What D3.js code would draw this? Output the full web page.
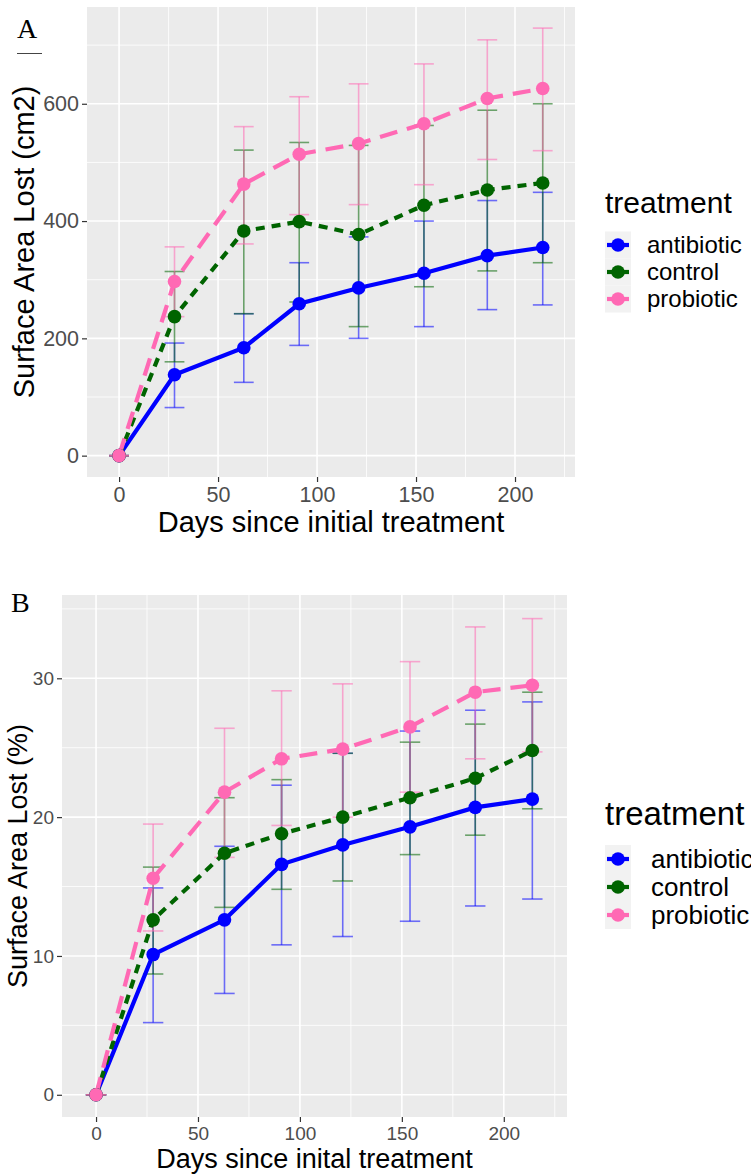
<!DOCTYPE html>
<html>
<head>
<meta charset="utf-8">
<script src="https://cdn.jsdelivr.net/npm/d3@7"></script>
<style>
  body { margin: 0; background: #fff; }
  svg { display: block; font-family: "Liberation Sans", Arial, sans-serif; }
</style>
</head>
<body>
<div id="chart"></div>
<script>
// sampling days (shared by both panels)
const days = [0, 28, 63, 91, 121, 154, 186, 214];
const treatments = ['antibiotic', 'control', 'probiotic'];

// Panel A: surface area lost (cm2), mean and error bar ends
const cm2Antibiotic = [0, 138, 184, 259, 286, 311, 341, 355];
const cm2AntibioticLo = [0, 82, 125, 188, 200, 220, 249, 257];
const cm2AntibioticHi = [0, 192, 242, 329, 373, 400, 435, 449];
const cm2Control = [0, 237, 383, 399, 377, 427, 453, 465];
const cm2ControlLo = [0, 160, 242, 262, 220, 288, 315, 329];
const cm2ControlHi = [0, 314, 521, 534, 529, 563, 589, 600];
const cm2Probiotic = [0, 297, 463, 514, 532, 566, 609, 626];
const cm2ProbioticLo = [0, 237, 361, 411, 428, 462, 505, 520];
const cm2ProbioticHi = [0, 356, 561, 612, 634, 668, 709, 729];

// Panel B: surface area lost (%)
const pctAntibiotic = [0, 10.1, 12.6, 16.6, 18.0, 19.3, 20.7, 21.3];
const pctAntibioticLo = [0, 5.2, 7.3, 10.8, 11.4, 12.5, 13.6, 14.1];
const pctAntibioticHi = [0, 14.9, 17.9, 22.3, 24.6, 26.2, 27.7, 28.3];
const pctControl = [0, 12.6, 17.4, 18.8, 20.0, 21.4, 22.8, 24.8];
const pctControlLo = [0, 8.7, 13.5, 14.8, 15.4, 17.3, 18.7, 20.6];
const pctControlHi = [0, 16.4, 21.4, 22.7, 24.6, 25.4, 26.7, 29.0];
const pctProbiotic = [0, 15.6, 21.8, 24.2, 24.9, 26.5, 29.0, 29.5];
const pctProbioticLo = [0, 11.8, 17.1, 19.4, 20.0, 21.8, 24.2, 24.7];
const pctProbioticHi = [0, 19.5, 26.4, 29.1, 29.6, 31.2, 33.7, 34.3];

const xTicks = [0, 50, 100, 150, 200];
const yTicksA = [0, 200, 400, 600];
const yTicksB = [0, 10, 20, 30];

const colours = { antibiotic: '#0000FF', control: '#006400', probiotic: '#FF69B4' };
const dashes = { antibiotic: null, control: '9,7', probiotic: '18,10' };

const svg = d3.select('#chart').append('svg')
  .attr('width', 751)
  .attr('height', 1175);

function buildSeries(means, los, his) {
  return treatments.map((t, k) => ({
    name: t,
    points: days.map((d, i) => ({ day: d, mean: means[k][i], lo: los[k][i], hi: his[k][i] }))
  }));
}

function drawPanel(opt) {
  const x = d3.scaleLinear().domain(opt.xDomain).range([opt.left, opt.right]);
  const y = d3.scaleLinear().domain(opt.yDomain).range([opt.bottom, opt.top]);
  const g = svg.append('g');

  // panel background + grid
  g.append('rect')
    .attr('x', opt.left).attr('y', opt.top)
    .attr('width', opt.right - opt.left).attr('height', opt.bottom - opt.top)
    .attr('fill', '#EBEBEB');

  const minorX = xTicks.map((v) => v + 25).concat([-25]).filter((v) => v > opt.xDomain[0] && v < opt.xDomain[1]);
  const step = opt.yTicks[1] - opt.yTicks[0];
  const minorY = opt.yTicks.map((v) => v + step / 2).filter((v) => v < opt.yDomain[1]);

  g.selectAll('.minx').data(minorX).enter().append('line')
    .attr('x1', (d) => x(d)).attr('x2', (d) => x(d))
    .attr('y1', opt.top).attr('y2', opt.bottom)
    .attr('stroke', '#fff').attr('stroke-width', 0.8);
  g.selectAll('.miny').data(minorY).enter().append('line')
    .attr('y1', (d) => y(d)).attr('y2', (d) => y(d))
    .attr('x1', opt.left).attr('x2', opt.right)
    .attr('stroke', '#fff').attr('stroke-width', 0.8);
  g.selectAll('.majx').data(xTicks).enter().append('line')
    .attr('x1', (d) => x(d)).attr('x2', (d) => x(d))
    .attr('y1', opt.top).attr('y2', opt.bottom)
    .attr('stroke', '#fff').attr('stroke-width', 1.6);
  g.selectAll('.majy').data(opt.yTicks).enter().append('line')
    .attr('y1', (d) => y(d)).attr('y2', (d) => y(d))
    .attr('x1', opt.left).attr('x2', opt.right)
    .attr('stroke', '#fff').attr('stroke-width', 1.6);

  // axes
  const xAxis = g.append('g')
    .attr('transform', `translate(0, ${opt.bottom})`)
    .call(d3.axisBottom(x).tickValues(xTicks).tickSize(5).tickPadding(5));
  const yAxis = g.append('g')
    .attr('transform', `translate(${opt.left}, 0)`)
    .call(d3.axisLeft(y).tickValues(opt.yTicks).tickSize(5).tickPadding(3));
  [xAxis, yAxis].forEach((ax) => {
    ax.select('.domain').remove();
    ax.selectAll('line').attr('stroke', '#333').attr('stroke-width', 1.2);
    ax.selectAll('text')
      .attr('fill', '#4D4D4D')
      .style('font-size', opt.tickFont + 'px')
      .style('font-family', '"Liberation Sans", Arial, sans-serif');
  });

  const series = opt.series;
  const capHalf = 5;

  // error bars
  series.forEach((s) => {
    const eg = g.append('g')
      .attr('stroke', colours[s.name])
      .attr('stroke-opacity', 0.55)
      .attr('stroke-width', 1.6);
    s.points.forEach((p) => {
      eg.append('line')
        .attr('x1', x(p.day)).attr('x2', x(p.day))
        .attr('y1', y(p.lo)).attr('y2', y(p.hi));
      [p.lo, p.hi].forEach((v) => {
        eg.append('line')
          .attr('x1', x(p.day - capHalf)).attr('x2', x(p.day + capHalf))
          .attr('y1', y(v)).attr('y2', y(v));
      });
    });
  });

  // lines
  const line = d3.line().x((d) => x(d.day)).y((d) => y(d.mean));
  series.forEach((s) => {
    g.append('path')
      .datum(s.points)
      .attr('fill', 'none')
      .attr('stroke', colours[s.name])
      .attr('stroke-width', 4.2)
      .attr('stroke-dasharray', dashes[s.name])
      .attr('d', line);
  });

  // points
  series.forEach((s) => {
    g.selectAll(null).data(s.points).enter().append('circle')
      .attr('cx', (d) => x(d.day))
      .attr('cy', (d) => y(d.mean))
      .attr('r', 6.8)
      .attr('fill', colours[s.name]);
  });

  // axis titles
  g.append('text')
    .attr('x', (opt.left + opt.right) / 2)
    .attr('y', opt.xTitleY)
    .attr('text-anchor', 'middle')
    .style('font-size', opt.titleFont + 'px')
    .attr('fill', '#000')
    .text(opt.xTitle);
  g.append('text')
    .attr('transform', `translate(${opt.yTitleX}, ${(opt.top + opt.bottom) / 2}) rotate(-90)`)
    .attr('text-anchor', 'middle')
    .style('font-size', opt.titleFont + 'px')
    .attr('fill', '#000')
    .text(opt.yTitle);

  // legend
  const lg = g.append('g');
  lg.append('text')
    .attr('x', opt.legX).attr('y', opt.legTitleY)
    .style('font-size', opt.legTitleFont + 'px')
    .attr('fill', '#000')
    .text('treatment');
  treatments.forEach((t, i) => {
    const cy = opt.legKeyY + i * opt.legStep;
    lg.append('rect')
      .attr('x', opt.legX).attr('y', cy - opt.legStep / 2)
      .attr('width', 26).attr('height', opt.legStep)
      .attr('fill', '#F2F2F2');
    lg.append('line')
      .attr('x1', opt.legX + 2).attr('x2', opt.legX + 24)
      .attr('y1', cy).attr('y2', cy)
      .attr('stroke', colours[t]).attr('stroke-width', 4.2);
    lg.append('circle')
      .attr('cx', opt.legX + 13).attr('cy', cy).attr('r', 6.8)
      .attr('fill', colours[t]);
    lg.append('text')
      .attr('x', opt.legX + opt.legTextDx).attr('y', cy)
      .attr('dy', '0.35em')
      .style('font-size', opt.legFont + 'px')
      .attr('fill', '#000')
      .text(t);
  });
}

// Panel A
drawPanel({
  left: 87, right: 575, top: 7, bottom: 477,
  xDomain: [-16.2, 230.3], yDomain: [-36.4, 765],
  yTicks: yTicksA,
  series: buildSeries(
    [cm2Antibiotic, cm2Control, cm2Probiotic],
    [cm2AntibioticLo, cm2ControlLo, cm2ProbioticLo],
    [cm2AntibioticHi, cm2ControlHi, cm2ProbioticHi]),
  tickFont: 21.5, titleFont: 29,
  xTitle: 'Days since initial treatment', xTitleY: 532,
  yTitle: 'Surface Area Lost (cm2)', yTitleX: 34,
  legX: 605, legTitleY: 213, legTitleFont: 30,
  legKeyY: 245, legStep: 27, legFont: 24, legTextDx: 42
});

// Panel B
drawPanel({
  left: 62, right: 567, top: 595, bottom: 1117,
  xDomain: [-16.7, 231], yDomain: [-1.6, 36.0],
  yTicks: yTicksB,
  series: buildSeries(
    [pctAntibiotic, pctControl, pctProbiotic],
    [pctAntibioticLo, pctControlLo, pctProbioticLo],
    [pctAntibioticHi, pctControlHi, pctProbioticHi]),
  tickFont: 19, titleFont: 27,
  xTitle: 'Days since inital treatment', xTitleY: 1168,
  yTitle: 'Surface Area Lost (%)', yTitleX: 27,
  legX: 605, legTitleY: 825, legTitleFont: 33,
  legKeyY: 859, legStep: 28, legFont: 26, legTextDx: 46
});

// panel letters
svg.append('text')
  .attr('x', 17).attr('y', 38)
  .style('font-family', '"Liberation Serif", "Times New Roman", serif')
  .style('font-size', '28px')
  .text('A');
svg.append('line')
  .attr('x1', 17).attr('x2', 42).attr('y1', 53.5).attr('y2', 53.5)
  .attr('stroke', '#444').attr('stroke-width', 1);
svg.append('text')
  .attr('x', 11).attr('y', 612)
  .style('font-family', '"Liberation Serif", "Times New Roman", serif')
  .style('font-size', '28px')
  .text('B');
</script>
</body>
</html>
